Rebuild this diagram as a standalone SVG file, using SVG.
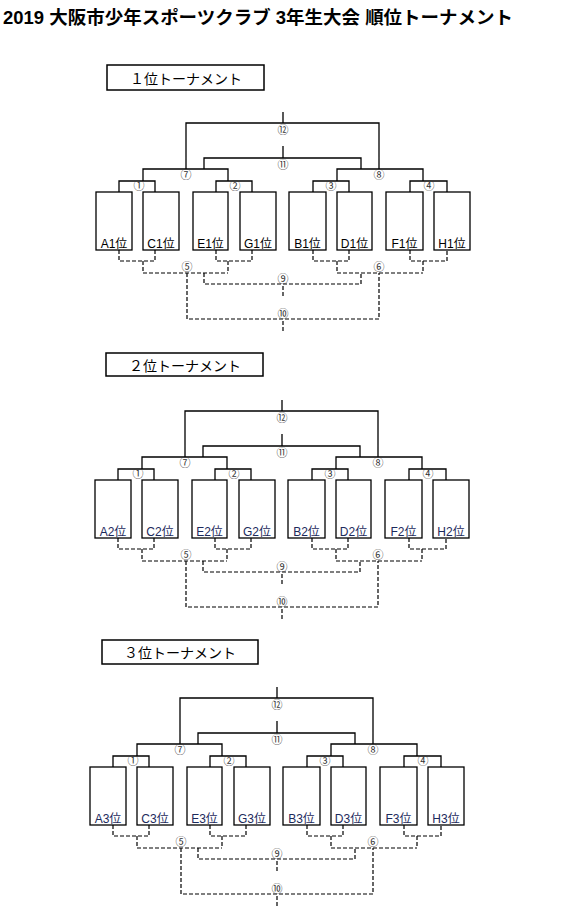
<svg xmlns="http://www.w3.org/2000/svg" width="565" height="914" viewBox="0 0 565 914">
<style>
text{font-family:"Liberation Sans","Noto Sans CJK JP",sans-serif;}
.title{font-size:18px;font-weight:bold;fill:#000;}
.ttl{font-size:14px;fill:#000;text-anchor:middle;}
.tbox{fill:#fff;stroke:#000;stroke-width:1.5;}
.box{fill:#fff;stroke:#000;stroke-width:1.3;}
.lbl{font-size:12px;text-anchor:middle;fill:#000;}
.t2 .lbl,.t3 .lbl{fill:#1c2a5c;}
.num{font-family:"Noto Sans CJK JP","DejaVu Sans",sans-serif;font-size:11px;text-anchor:middle;fill:#333;}
.solid{fill:none;stroke:#000;stroke-width:1.3;}
.dash{fill:none;stroke:#000;stroke-width:1.2;stroke-dasharray:4 2;}
</style>
<text class="title" x="3" y="24" textLength="510" lengthAdjust="spacingAndGlyphs">2019 大阪市少年スポーツクラブ 3年生大会 順位トーナメント</text>

<g id="t1" class="t1">
<g id="t1-title"><rect class="tbox" x="107" y="65" width="157" height="25"/><text class="ttl" x="186" y="84">１位トーナメント</text></g>
<g id="t1-connectors">
<path class="solid" d="M186,169V123H379V169M283,112V123M204,169V158H361V169M283,146V158M143,181V169H228V181M337,181V169H423V181M119,192V181H155V192M216,192V181H252V192M313,192V181H349V192M410,192V181H447V192"/>
<path class="dash" d="M119,250V261H155V250M143,261V273M216,250V261H252V250M228,261V273M143,273H228M313,250V261H349V250M337,261V273M410,250V261H447V250M423,261V273M337,273H423M204,273V284H361V273M283,286V297M187,273V319H379V273M283,321V331"/>
</g>
<g id="t1-nums">
<text class="num" x="283" y="134">⑫</text><text class="num" x="283" y="169">⑪</text>
<text class="num" x="186" y="179">⑦</text><text class="num" x="379" y="179">⑧</text>
<text class="num" x="139" y="190">①</text><text class="num" x="235" y="190">②</text><text class="num" x="331" y="190">③</text><text class="num" x="429" y="190">④</text>
<text class="num" x="187" y="271">⑤</text><text class="num" x="379" y="271">⑥</text>
<text class="num" x="283" y="283">⑨</text><text class="num" x="283" y="318">⑩</text>
</g>
<g id="t1-A"><rect class="box" x="96" y="192" width="36" height="58"/><text class="lbl" x="114" y="248">A1位</text></g>
<g id="t1-C"><rect class="box" x="143" y="192" width="36" height="58"/><text class="lbl" x="161" y="248">C1位</text></g>
<g id="t1-E"><rect class="box" x="193" y="192" width="35" height="58"/><text class="lbl" x="210.5" y="248">E1位</text></g>
<g id="t1-G"><rect class="box" x="240" y="192" width="36" height="58"/><text class="lbl" x="258" y="248">G1位</text></g>
<g id="t1-B"><rect class="box" x="289" y="192" width="37" height="58"/><text class="lbl" x="307.5" y="248">B1位</text></g>
<g id="t1-D"><rect class="box" x="337" y="192" width="35" height="58"/><text class="lbl" x="354.5" y="248">D1位</text></g>
<g id="t1-F"><rect class="box" x="386" y="192" width="37" height="58"/><text class="lbl" x="404.5" y="248">F1位</text></g>
<g id="t1-H"><rect class="box" x="434" y="192" width="36" height="58"/><text class="lbl" x="452" y="248">H1位</text></g>
</g>

<g id="t2" class="t2" transform="translate(-1,288)">
<g id="t2-title"><rect class="tbox" x="107" y="65" width="157" height="23"/><text class="ttl" x="186" y="83">２位トーナメント</text></g>
<g id="t2-connectors">
<path class="solid" d="M186,169V123H379V169M283,112V123M204,169V158H361V169M283,146V158M143,181V169H228V181M337,181V169H423V181M119,192V181H155V192M216,192V181H252V192M313,192V181H349V192M410,192V181H447V192"/>
<path class="dash" d="M119,250V261H155V250M143,261V273M216,250V261H252V250M228,261V273M143,273H228M313,250V261H349V250M337,261V273M410,250V261H447V250M423,261V273M337,273H423M204,273V284H361V273M283,286V297M187,273V319H379V273M283,321V331"/>
</g>
<g id="t2-nums">
<text class="num" x="283" y="134">⑫</text><text class="num" x="283" y="169">⑪</text>
<text class="num" x="186" y="179">⑦</text><text class="num" x="379" y="179">⑧</text>
<text class="num" x="139" y="190">①</text><text class="num" x="235" y="190">②</text><text class="num" x="331" y="190">③</text><text class="num" x="429" y="190">④</text>
<text class="num" x="187" y="271">⑤</text><text class="num" x="379" y="271">⑥</text>
<text class="num" x="283" y="283">⑨</text><text class="num" x="283" y="318">⑩</text>
</g>
<g id="t2-A"><rect class="box" x="96" y="192" width="36" height="58"/><text class="lbl" x="114" y="248">A2位</text></g>
<g id="t2-C"><rect class="box" x="143" y="192" width="36" height="58"/><text class="lbl" x="161" y="248">C2位</text></g>
<g id="t2-E"><rect class="box" x="193" y="192" width="35" height="58"/><text class="lbl" x="210.5" y="248">E2位</text></g>
<g id="t2-G"><rect class="box" x="240" y="192" width="36" height="58"/><text class="lbl" x="258" y="248">G2位</text></g>
<g id="t2-B"><rect class="box" x="289" y="192" width="37" height="58"/><text class="lbl" x="307.5" y="248">B2位</text></g>
<g id="t2-D"><rect class="box" x="337" y="192" width="35" height="58"/><text class="lbl" x="354.5" y="248">D2位</text></g>
<g id="t2-F"><rect class="box" x="386" y="192" width="37" height="58"/><text class="lbl" x="404.5" y="248">F2位</text></g>
<g id="t2-H"><rect class="box" x="434" y="192" width="36" height="58"/><text class="lbl" x="452" y="248">H2位</text></g>
</g>

<g id="t3" class="t3" transform="translate(-6,575)">
<g id="t3-title"><rect class="tbox" x="108" y="65" width="156" height="24"/><text class="ttl" x="186" y="83">３位トーナメント</text></g>
<g id="t3-connectors">
<path class="solid" d="M186,169V123H379V169M283,112V123M204,169V158H361V169M283,146V158M143,181V169H228V181M337,181V169H423V181M119,192V181H155V192M216,192V181H252V192M313,192V181H349V192M410,192V181H447V192"/>
<path class="dash" d="M119,250V261H155V250M143,261V273M216,250V261H252V250M228,261V273M143,273H228M313,250V261H349V250M337,261V273M410,250V261H447V250M423,261V273M337,273H423M204,273V284H361V273M283,286V297M187,273V319H379V273M283,321V331"/>
</g>
<g id="t3-nums">
<text class="num" x="283" y="134">⑫</text><text class="num" x="283" y="169">⑪</text>
<text class="num" x="186" y="179">⑦</text><text class="num" x="379" y="179">⑧</text>
<text class="num" x="139" y="190">①</text><text class="num" x="235" y="190">②</text><text class="num" x="331" y="190">③</text><text class="num" x="429" y="190">④</text>
<text class="num" x="187" y="271">⑤</text><text class="num" x="379" y="271">⑥</text>
<text class="num" x="283" y="283">⑨</text><text class="num" x="283" y="318">⑩</text>
</g>
<g id="t3-A"><rect class="box" x="96" y="192" width="36" height="58"/><text class="lbl" x="114" y="248">A3位</text></g>
<g id="t3-C"><rect class="box" x="143" y="192" width="36" height="58"/><text class="lbl" x="161" y="248">C3位</text></g>
<g id="t3-E"><rect class="box" x="193" y="192" width="35" height="58"/><text class="lbl" x="210.5" y="248">E3位</text></g>
<g id="t3-G"><rect class="box" x="240" y="192" width="36" height="58"/><text class="lbl" x="258" y="248">G3位</text></g>
<g id="t3-B"><rect class="box" x="289" y="192" width="37" height="58"/><text class="lbl" x="307.5" y="248">B3位</text></g>
<g id="t3-D"><rect class="box" x="337" y="192" width="35" height="58"/><text class="lbl" x="354.5" y="248">D3位</text></g>
<g id="t3-F"><rect class="box" x="386" y="192" width="37" height="58"/><text class="lbl" x="404.5" y="248">F3位</text></g>
<g id="t3-H"><rect class="box" x="434" y="192" width="36" height="58"/><text class="lbl" x="452" y="248">H3位</text></g>
</g>
</svg>
